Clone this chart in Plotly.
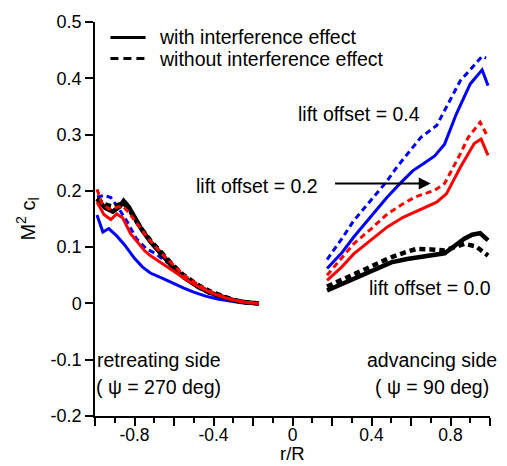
import plotly.graph_objects as go

# ---- retreating side (psi = 270 deg), r/R < 0 ----
ret_x_04_with = [-0.99, -0.96, -0.93, -0.89, -0.85, -0.80, -0.76, -0.72, -0.66, -0.60, -0.55, -0.50, -0.44, -0.38, -0.32, -0.26, -0.17]
ret_y_04_with = [0.157, 0.127, 0.133, 0.120, 0.104, 0.080, 0.065, 0.054, 0.045, 0.035, 0.027, 0.020, 0.013, 0.008, 0.004, 0.001, 0.0]
ret_x_04_without = [-0.99, -0.95, -0.92, -0.89, -0.84, -0.79, -0.74, -0.69, -0.65, -0.60, -0.56, -0.52, -0.47, -0.40, -0.31, -0.24, -0.17]
ret_y_04_without = [0.189, 0.192, 0.188, 0.174, 0.147, 0.115, 0.097, 0.088, 0.076, 0.067, 0.053, 0.038, 0.026, 0.014, 0.005, 0.002, 0.0]

ret_x_02_with = [-0.99, -0.955, -0.92, -0.89, -0.86, -0.82, -0.75, -0.72, -0.66, -0.62, -0.56, -0.52, -0.46, -0.42, -0.36, -0.31, -0.24, -0.17]
ret_y_02_with = [0.180, 0.158, 0.149, 0.159, 0.152, 0.124, 0.094, 0.085, 0.071, 0.062, 0.048, 0.038, 0.027, 0.020, 0.012, 0.007, 0.002, 0.0]
ret_x_02_without = [-0.99, -0.965, -0.93, -0.895, -0.86, -0.83, -0.78, -0.73, -0.67, -0.60, -0.55, -0.48, -0.42, -0.36, -0.30, -0.24, -0.17]
ret_y_02_without = [0.203, 0.178, 0.168, 0.170, 0.173, 0.162, 0.139, 0.115, 0.091, 0.068, 0.050, 0.034, 0.022, 0.013, 0.006, 0.002, 0.0]

ret_x_00_with = [-0.99, -0.95, -0.91, -0.875, -0.855, -0.83, -0.77, -0.72, -0.65, -0.60, -0.55, -0.48, -0.42, -0.36, -0.30, -0.24, -0.17]
ret_y_00_with = [0.186, 0.170, 0.163, 0.172, 0.182, 0.172, 0.135, 0.110, 0.082, 0.062, 0.046, 0.030, 0.019, 0.012, 0.006, 0.002, 0.0]
ret_x_00_without = [-0.99, -0.95, -0.91, -0.875, -0.855, -0.83, -0.77, -0.72, -0.65, -0.60, -0.55, -0.48, -0.42, -0.36, -0.30, -0.24, -0.17]
ret_y_00_without = [0.186, 0.176, 0.172, 0.175, 0.178, 0.168, 0.135, 0.112, 0.085, 0.066, 0.050, 0.033, 0.022, 0.013, 0.006, 0.002, 0.0]

# ---- advancing side (psi = 90 deg), r/R > 0 ----
adv_x_04_with = [0.175, 0.25, 0.31, 0.40, 0.48, 0.55, 0.61, 0.67, 0.72, 0.77, 0.83, 0.90, 0.96, 0.99]
adv_y_04_with = [0.062, 0.090, 0.118, 0.155, 0.189, 0.215, 0.236, 0.250, 0.262, 0.283, 0.337, 0.390, 0.415, 0.387]
adv_x_04_without = [0.175, 0.25, 0.31, 0.40, 0.48, 0.53, 0.59, 0.65, 0.73, 0.78, 0.85, 0.92, 0.96, 0.98]
adv_y_04_without = [0.078, 0.115, 0.147, 0.185, 0.218, 0.243, 0.270, 0.295, 0.316, 0.349, 0.396, 0.423, 0.439, 0.436]

adv_x_02_with = [0.175, 0.25, 0.31, 0.40, 0.48, 0.56, 0.65, 0.73, 0.78, 0.85, 0.92, 0.955, 0.99]
adv_y_02_with = [0.041, 0.065, 0.088, 0.113, 0.136, 0.153, 0.168, 0.180, 0.195, 0.242, 0.284, 0.292, 0.263]
adv_x_02_without = [0.175, 0.25, 0.31, 0.40, 0.48, 0.56, 0.62, 0.72, 0.77, 0.85, 0.89, 0.95, 0.99]
adv_y_02_without = [0.050, 0.080, 0.106, 0.133, 0.159, 0.177, 0.189, 0.201, 0.213, 0.266, 0.295, 0.322, 0.295]

adv_x_00_with = [0.175, 0.25, 0.33, 0.42, 0.50, 0.58, 0.65, 0.72, 0.77, 0.82, 0.87, 0.91, 0.95, 0.99]
adv_y_00_with = [0.023, 0.035, 0.047, 0.060, 0.073, 0.079, 0.083, 0.086, 0.089, 0.102, 0.115, 0.122, 0.125, 0.112]
adv_x_00_without = [0.175, 0.25, 0.33, 0.42, 0.50, 0.58, 0.63, 0.70, 0.77, 0.82, 0.87, 0.93, 0.99]
adv_y_00_without = [0.030, 0.042, 0.055, 0.070, 0.082, 0.092, 0.097, 0.096, 0.094, 0.100, 0.106, 0.101, 0.085]

x_tick_vals = [-1.0, -0.8, -0.6, -0.4, -0.2, 0.0, 0.2, 0.4, 0.6, 0.8, 1.0]
x_tick_text = ["", "-0.8", "", "-0.4", "", "0", "", "0.4", "", "0.8", ""]
y_tick_vals = [-0.2, -0.1, 0.0, 0.1, 0.2, 0.3, 0.4, 0.5]
y_tick_text = ["-0.2", "-0.1", "0", "0.1", "0.2", "0.3", "0.4", "0.5"]

legend_labels = ["with interference effect", "without interference effect"]

FONT = "Liberation Sans, Arial, sans-serif"
BLUE = "#0000ff"
RED = "#ff0000"
BLACK = "#000000"
DASH = "6px,4px"

fig = go.Figure()

curves = [
    (ret_x_04_with, ret_y_04_with, BLUE, "solid", 3),
    (adv_x_04_with, adv_y_04_with, BLUE, "solid", 3),
    (ret_x_04_without, ret_y_04_without, BLUE, DASH, 3),
    (adv_x_04_without, adv_y_04_without, BLUE, DASH, 3),
    (ret_x_00_with, ret_y_00_with, BLACK, "solid", 4.5),
    (adv_x_00_with, adv_y_00_with, BLACK, "solid", 4.5),
    (ret_x_00_without, ret_y_00_without, BLACK, DASH, 4.5),
    (adv_x_00_without, adv_y_00_without, BLACK, DASH, 4.5),
    (ret_x_02_with, ret_y_02_with, RED, "solid", 3),
    (adv_x_02_with, adv_y_02_with, RED, "solid", 3),
    (ret_x_02_without, ret_y_02_without, RED, DASH, 3),
    (adv_x_02_without, adv_y_02_without, RED, DASH, 3),
]
for xs, ys, color, dash, width in curves:
    fig.add_trace(go.Scatter(x=xs, y=ys, mode="lines", showlegend=False,
                             line=dict(color=color, dash=dash, width=width)))

# key: line samples and labels in the upper-left corner
key_rows = [(0.4725, "solid"), (0.435, "8px,5px")]
for (ky, kdash), label in zip(key_rows, legend_labels):
    fig.add_shape(type="line", xref="x", yref="y", x0=-0.922, x1=-0.744, y0=ky, y1=ky,
                  line=dict(color=BLACK, width=3, dash=kdash))
    fig.add_annotation(x=-0.684, y=ky, text=label, showarrow=False,
                       xanchor="left", yanchor="middle",
                       font=dict(family=FONT, size=19.5, color="black"))

txt = dict(family=FONT, size=19.5, color="black")
annotations = [
    dict(x=0.339, y=0.336, text="lift offset = 0.4"),
    dict(x=-0.18, y=0.208, text="lift offset = 0.2"),
    dict(x=0.696, y=0.027, text="lift offset = 0.0"),
    dict(x=-0.678, y=-0.101, text="retreating side"),
    dict(x=-0.678, y=-0.149, text="( ψ = 270 deg)"),
    dict(x=0.704, y=-0.101, text="advancing side"),
    dict(x=0.704, y=-0.149, text="( ψ = 90 deg)"),
]
for a in annotations:
    fig.add_annotation(x=a["x"], y=a["y"], text=a["text"], showarrow=False,
                       xanchor="center", yanchor="middle", font=txt)

# arrow pointing at the lift offset = 0.2 curves
fig.add_annotation(x=0.70, y=0.213, ax=0.208, ay=0.213, axref="x", ayref="y",
                   xref="x", yref="y", text="", showarrow=True,
                   arrowhead=2, arrowsize=1.2, arrowwidth=2, arrowcolor="black")

# x-axis title placed just under the tick labels
fig.add_annotation(x=0.5, y=-0.095, xref="paper", yref="paper", text="r/R",
                   showarrow=False, xanchor="center", yanchor="middle",
                   font=dict(family=FONT, size=18.5, color="black"))

fig.update_layout(
    width=507, height=466,
    margin=dict(l=95, r=17, t=22, b=50),
    paper_bgcolor="white", plot_bgcolor="white",
    font=dict(family=FONT, size=18, color="black"),
    showlegend=False,
    xaxis=dict(range=[-1, 1], tickvals=x_tick_vals, ticktext=x_tick_text,
               ticks="outside", ticklen=8, tickwidth=1.5, tickcolor="black",
               showline=True, linecolor="black", linewidth=1.5,
               showgrid=False, zeroline=False, automargin=False,
               ticklabelstandoff=-6,
               minor=dict(dtick=0.1, tick0=0, ticks="outside", ticklen=5,
                          tickwidth=1.5, tickcolor="black"),
               tickfont=dict(family=FONT, size=17.5)),
    yaxis=dict(range=[-0.2, 0.5], tickvals=y_tick_vals, ticktext=y_tick_text,
               ticks="outside", ticklen=8, tickwidth=1.5, tickcolor="black",
               showline=True, linecolor="black", linewidth=1.5,
               showgrid=False, zeroline=False, automargin=False,
               tickfont=dict(family=FONT, size=18),
               title=dict(text="M<sup>2</sup> c<sub>l</sub>", font=dict(family=FONT, size=20),
                          standoff=10)),
)

fig.write_html("out.html")
